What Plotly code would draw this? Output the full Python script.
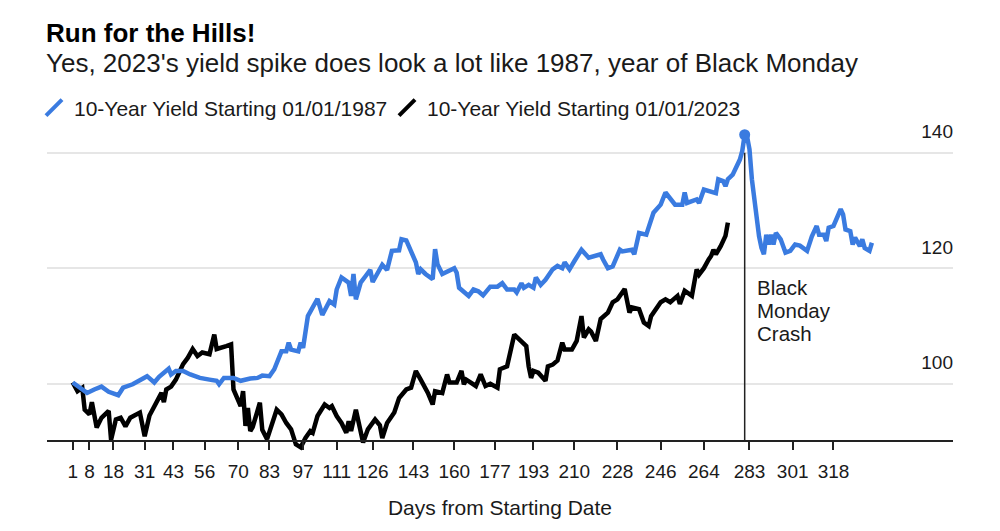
import plotly.graph_objects as go

# ---- data ----
days_1987 = [1, 4, 7, 10, 13, 16, 20, 22, 26, 29, 32, 35, 37, 41, 42, 44, 47, 50, 54, 58,
             61, 62, 64, 68, 71, 75, 78, 80, 83, 85, 88, 90, 91, 92, 95, 96, 97, 99, 103, 105,
             108, 110, 111, 113, 116, 117, 118, 119, 121, 123, 125, 126, 129, 130, 132, 134, 137, 138, 140, 142,
             144, 145, 146, 148, 151, 152, 153, 155, 158, 160, 161, 162, 166, 168, 170, 172, 175, 178, 180, 182,
             185, 186, 188, 189, 191, 193, 194, 196, 198, 201, 203, 205, 206, 208, 210, 213, 216, 221, 222, 224,
             226, 229, 230, 234, 235, 237, 240, 243, 246, 248, 252, 255, 256, 257, 261, 262, 264, 267, 269, 270,
             272, 273, 274, 276, 278, 279, 280, 281, 282, 283, 284, 285, 286, 287, 288, 289, 290, 291, 292, 293,
             294, 296, 298, 300, 302, 304, 307, 309, 311, 312, 314, 315, 316, 318, 321, 322, 323, 325, 326, 327,
             329, 330, 331, 333, 334]
yield_1987 = [100.2, 99.2, 98.4, 99.0, 99.5, 98.6, 98.0, 99.3, 99.9, 100.6, 101.3, 100.2, 101.2, 102.6, 101.6, 102.2, 102.2, 101.6, 101.0, 100.7,
              100.5, 99.9, 101.0, 101.0, 100.5, 100.9, 101.0, 101.4, 101.3, 102.5, 105.6, 105.6, 107.1, 105.9, 105.6, 107.1, 106.2, 111.7, 114.7, 111.9,
              114.3, 113.7, 116.3, 118.4, 117.5, 115.2, 119.0, 114.6, 117.5, 118.6, 119.7, 117.6, 119.7, 120.6, 119.7, 123.0, 123.1, 125.0, 124.8, 122.7,
              121.0, 119.0, 119.8, 119.0, 118.1, 123.3, 120.7, 119.0, 119.5, 120.0, 119.2, 116.6, 115.2, 116.3, 116.0, 115.3, 116.8, 116.8, 117.4, 116.3,
              116.3, 115.8, 117.4, 116.6, 117.1, 116.6, 118.4, 117.1, 118.0, 119.8, 120.4, 120.0, 121.0, 119.8, 121.2, 123.2, 121.8, 122.4, 121.5, 120.0,
              120.3, 123.2, 122.9, 123.2, 122.4, 126.1, 125.8, 129.6, 131.0, 133.1, 131.0, 131.0, 133.1, 131.3, 131.9, 131.3, 133.6, 133.3, 133.0, 135.4,
              135.1, 134.2, 135.4, 136.2, 137.7, 138.8, 140.3, 143.1, 142.8, 140.6, 135.4, 131.6, 129.0, 125.5, 123.5, 122.4, 125.8, 124.1, 125.8, 124.1,
              126.1, 125.0, 122.7, 123.0, 124.1, 123.9, 123.0, 125.5, 127.3, 125.8, 125.8, 124.7, 127.0, 127.3, 130.2, 129.3, 126.7, 126.4, 124.1, 125.3,
              123.8, 125.0, 123.5, 123.0, 124.4]

days_2023 = [1, 3, 5, 6, 8, 9, 11, 13, 16, 17, 19, 21, 23, 25, 29, 31, 33, 36, 38, 39,
             40, 42, 44, 47, 49, 51, 53, 55, 58, 60, 61, 65, 67, 68, 70, 71, 72, 73, 74, 75,
             76, 79, 80, 82, 86, 88, 90, 92, 94, 96, 98, 100, 101, 103, 106, 108, 109, 111, 113, 115,
             116, 117, 119, 121, 122, 124, 127, 129, 130, 132, 135, 137, 140, 142, 144, 146, 149, 151, 152, 155,
             157, 158, 161, 163, 164, 165, 169, 171, 173, 175, 178, 179, 182, 185, 187, 190, 191, 192, 193, 195,
             198, 199, 201, 203, 205, 206, 209, 211, 213, 214, 216, 217, 219, 221, 224, 226, 228, 231, 233, 234,
             237, 239, 241, 242, 246, 248, 250, 253, 254, 256, 259, 261, 262, 264, 266, 267, 268, 269, 271, 273,
             274]
yield_2023 = [100.2, 98.7, 99.3, 95.5, 94.7, 96.8, 92.4, 94.1, 95.3, 90.3, 93.8, 94.1, 92.6, 94.1, 95.0, 90.9, 94.5, 97.0, 98.4, 96.8,
              99.0, 99.5, 100.7, 103.4, 104.5, 106.0, 104.8, 105.4, 105.1, 108.5, 106.0, 106.5, 106.8, 99.0, 97.3, 96.1, 98.7, 92.7, 95.8, 91.8,
              92.5, 96.7, 92.0, 90.4, 95.5, 94.7, 93.2, 92.1, 89.5, 89.0, 90.6, 91.8, 91.5, 94.4, 96.4, 95.8, 96.1, 94.4, 93.2, 91.5,
              93.5, 91.8, 95.5, 92.1, 89.8, 92.1, 93.8, 92.8, 90.6, 93.2, 95.0, 97.5, 99.0, 99.3, 102.2, 100.7, 98.4, 96.4, 98.7, 98.4,
              101.6, 100.2, 100.2, 102.2, 99.9, 100.7, 99.6, 101.6, 99.6, 100.0, 99.3, 102.5, 103.0, 108.5, 107.7, 106.5, 103.0, 101.0, 102.2, 101.9,
              100.5, 103.0, 103.3, 104.0, 107.1, 105.9, 105.9, 107.4, 111.7, 108.0, 109.4, 109.0, 107.4, 111.2, 112.3, 114.1, 114.6, 116.4, 112.3, 113.2,
              112.9, 110.6, 110.0, 111.7, 114.1, 114.6, 114.1, 115.2, 113.8, 116.1, 115.2, 119.8, 118.9, 120.0, 121.5, 122.1, 123.2, 122.4, 123.8, 125.6,
              127.9]

tick_days = [1, 8, 18, 31, 43, 56, 70, 83, 97, 111, 126, 143, 160, 177, 193, 210, 228, 246, 264, 283, 301, 318]
y_ticks = [100, 120, 140]
black_monday_day = 281
crash_label_lines = ["Black", "Monday", "Crash"]
names = ["10-Year Yield Starting 01/01/1987", "10-Year Yield Starting 01/01/2023"]

BLUE = "#3a7be0"
BLACK = "#000000"
FONT = "Liberation Sans, Arial, Helvetica, sans-serif"
TXT = "#1a1a1a"

Y_MIN, Y_MAX = 88, 146
PLOT_TOP, PLOT_H = 118, 335


def paper_y(px):
    return 1 + (PLOT_TOP - px) / PLOT_H


peak_i = max(range(len(yield_1987)), key=lambda i: yield_1987[i])

fig = go.Figure()
fig.add_trace(go.Scatter(x=days_2023, y=yield_2023, mode="lines",
                         line=dict(color=BLACK, width=4.5), showlegend=False, hoverinfo="x+y"))
fig.add_trace(go.Scatter(x=days_1987, y=yield_1987, mode="lines",
                         line=dict(color=BLUE, width=4.5), showlegend=False, hoverinfo="x+y"))
fig.add_trace(go.Scatter(x=[days_1987[peak_i]], y=[yield_1987[peak_i]], mode="markers",
                         marker=dict(color=BLUE, size=11), showlegend=False, hoverinfo="x+y"))

# legend entries with slanted line symbols
for nm, col in zip(names, [BLUE, BLACK]):
    fig.add_trace(go.Scatter(x=[None], y=[None], mode="markers", name=nm,
                             marker=dict(symbol="line-ne", size=17, color=col,
                                         line=dict(color=col, width=4))))

fig.add_shape(type="line", xref="x", yref="y", x0=black_monday_day, x1=black_monday_day,
              y0=90, y1=140, line=dict(color="#222222", width=1.5), layer="above")
for k, word in enumerate(crash_label_lines):
    fig.add_annotation(x=black_monday_day, y=140, xref="x", yref="y", xshift=10,
                       yshift=-(288 - 153) - 23 * k,
                       text=word, showarrow=False, xanchor="left", yanchor="middle", align="left",
                       font=dict(family=FONT, size=20.5, color=TXT))

fig.add_annotation(xref="paper", yref="paper", x=-0.003, y=paper_y(63),
                   text="Yes, 2023's yield spike does look a lot like 1987, year of Black Monday",
                   showarrow=False, xanchor="left", yanchor="middle",
                   font=dict(family=FONT, size=26, color=TXT))

fig.update_layout(
    width=1000, height=531,
    margin=dict(l=47, r=47, t=PLOT_TOP, b=531 - PLOT_TOP - PLOT_H, autoexpand=False),
    paper_bgcolor="white", plot_bgcolor="white",
    font=dict(family=FONT, color=TXT),
    title=dict(text="<b>Run for the Hills!</b>", x=0.046, xanchor="left",
               xref="container", yref="container", y=1 - 33 / 531, yanchor="middle",
               font=dict(family=FONT, size=26, color="#000000")),
    legend=dict(orientation="h", xref="container", x=0.034, yref="paper",
                y=paper_y(108), yanchor="middle", xanchor="left",
                entrywidth=308, entrywidthmode="pixels",
                font=dict(family=FONT, size=21, color=TXT), bgcolor="rgba(0,0,0,0)"),
    xaxis=dict(range=[-9.7, 367.8], tickmode="array", tickvals=tick_days,
               ticktext=[str(t) for t in tick_days], showgrid=False, zeroline=False,
               ticks="outside", ticklen=8, tickwidth=1.5, tickcolor="#222222",
               showline=True, linecolor="#222222", linewidth=2,
               anchor="free", position=(90 - Y_MIN) / (Y_MAX - Y_MIN), ticklabelstandoff=5,
               tickfont=dict(family=FONT, size=19, color=TXT),
               title=dict(text="Days from Starting Date", font=dict(family=FONT, size=21, color=TXT),
                          standoff=18)),
    yaxis=dict(range=[Y_MIN, Y_MAX], side="right", tickmode="array", tickvals=y_ticks,
               showgrid=True, gridcolor="#e6e6e6", gridwidth=1.5, zeroline=False,
               showline=False, ticks="", ticklabelposition="inside top", ticklabelshift=-8,
               ticklabelstandoff=-3,
               tickfont=dict(family=FONT, size=19, color=TXT)),
    hovermode="closest",
)

fig.write_html("out.html")
